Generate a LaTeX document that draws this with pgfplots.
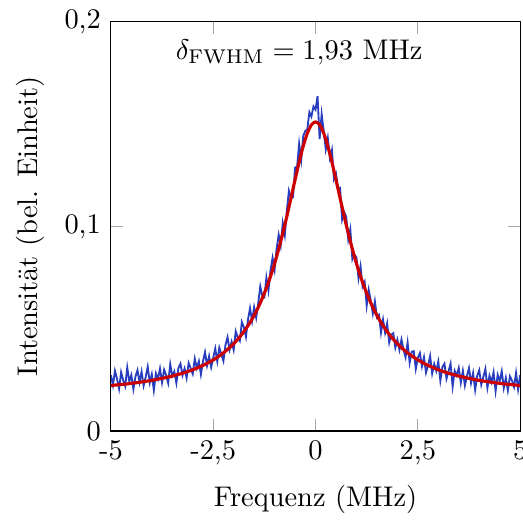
\documentclass[border=0pt]{standalone}
\usepackage{pgfplots}
\pgfplotsset{compat=1.18}
\definecolor{datablue}{RGB}{40,62,190}
\definecolor{fitred}{RGB}{205,0,0}
\begin{document}
\begin{tikzpicture}
\begin{axis}[
  scale only axis,
  width=144pt, height=144pt,
  xmin=-5, xmax=5, ymin=0, ymax=0.2,
  xtick={-5,-2.5,0,2.5,5},
  xticklabels={-5,{-2,5},0,{2,5},5},
  ytick={0,0.1,0.2},
  yticklabels={0,{0,1},{0,2}},
  tick style={gray!70, line width=0.4pt},
  xlabel={Frequenz (MHz)},
  ylabel={Intensität (bel. Einheit)},
  clip=true,
]
\addplot[datablue, line width=0.65pt] coordinates {
(-5.00,0.0272)(-4.95,0.0223)(-4.90,0.0294)(-4.85,0.0255)(-4.80,0.0206)(-4.75,0.0287)(-4.70,0.0248)(-4.65,0.0219)(-4.60,0.0310)(-4.55,0.0242)
(-4.50,0.0273)(-4.45,0.0204)(-4.40,0.0265)(-4.35,0.0297)(-4.30,0.0238)(-4.25,0.0290)(-4.20,0.0221)(-4.15,0.0263)(-4.10,0.0314)(-4.05,0.0236)
(-4.00,0.0277)(-3.95,0.0199)(-3.90,0.0281)(-3.85,0.0253)(-3.80,0.0305)(-3.75,0.0237)(-3.70,0.0299)(-3.65,0.0272)(-3.60,0.0234)(-3.55,0.0326)
(-3.50,0.0268)(-3.45,0.0291)(-3.40,0.0234)(-3.35,0.0307)(-3.30,0.0329)(-3.25,0.0272)(-3.20,0.0305)(-3.15,0.0259)(-3.10,0.0332)(-3.05,0.0306)
(-3.00,0.0279)(-2.95,0.0353)(-2.90,0.0307)(-2.85,0.0341)(-2.80,0.0276)(-2.75,0.0340)(-2.70,0.0385)(-2.65,0.0320)(-2.60,0.0366)(-2.55,0.0311)
(-2.50,0.0357)(-2.45,0.0403)(-2.40,0.0340)(-2.35,0.0407)(-2.30,0.0374)(-2.25,0.0342)(-2.20,0.0420)(-2.15,0.0458)(-2.10,0.0397)(-2.05,0.0436)
(-2.00,0.0396)(-1.95,0.0487)(-1.90,0.0458)(-1.85,0.0440)(-1.80,0.0532)(-1.75,0.0506)(-1.70,0.0460)(-1.65,0.0544)(-1.60,0.0600)(-1.55,0.0537)
(-1.50,0.0605)(-1.45,0.0554)(-1.40,0.0624)(-1.35,0.0706)(-1.30,0.0659)(-1.25,0.0653)(-1.20,0.0749)(-1.15,0.0686)(-1.10,0.0785)(-1.05,0.0846)
(-1.00,0.0788)(-0.95,0.0892)(-0.90,0.0959)(-0.85,0.0906)(-0.80,0.1016)(-0.75,0.0957)(-0.70,0.1079)(-0.65,0.1173)(-0.60,0.1138)(-0.55,0.1142)
(-0.50,0.1287)(-0.45,0.1291)(-0.40,0.1404)(-0.35,0.1325)(-0.30,0.1442)(-0.25,0.1466)(-0.20,0.1475)(-0.15,0.1558)(-0.10,0.1536)(-0.05,0.1586)
(0.00,0.1570)(0.05,0.1636)(0.10,0.1426)(0.15,0.1548)(0.20,0.1465)(0.25,0.1376)(0.30,0.1432)(0.35,0.1335)(0.40,0.1374)(0.45,0.1231)
(0.50,0.1257)(0.55,0.1182)(0.60,0.1188)(0.65,0.1033)(0.70,0.1069)(0.75,0.1047)(0.80,0.0936)(0.85,0.0986)(0.90,0.0839)(0.95,0.0862)
(1.00,0.0848)(1.05,0.0746)(1.10,0.0805)(1.15,0.0706)(1.20,0.0729)(1.25,0.0613)(1.30,0.0689)(1.35,0.0636)(1.40,0.0574)(1.45,0.0634)
(1.50,0.0555)(1.55,0.0567)(1.60,0.0480)(1.65,0.0544)(1.70,0.0480)(1.75,0.0526)(1.80,0.0432)(1.85,0.0470)(1.90,0.0478)(1.95,0.0407)
(2.00,0.0446)(2.05,0.0396)(2.10,0.0447)(2.15,0.0398)(2.20,0.0360)(2.25,0.0432)(2.30,0.0334)(2.35,0.0387)(2.40,0.0390)(2.45,0.0303)
(2.50,0.0357)(2.55,0.0381)(2.60,0.0316)(2.65,0.0360)(2.70,0.0285)(2.75,0.0320)(2.80,0.0366)(2.85,0.0281)(2.90,0.0327)(2.95,0.0293)
(3.00,0.0339)(3.05,0.0246)(3.10,0.0312)(3.15,0.0329)(3.20,0.0255)(3.25,0.0292)(3.30,0.0329)(3.35,0.0217)(3.40,0.0294)(3.45,0.0271)
(3.50,0.0308)(3.55,0.0236)(3.60,0.0294)(3.65,0.0222)(3.70,0.0269)(3.75,0.0307)(3.80,0.0235)(3.85,0.0283)(3.90,0.0201)(3.95,0.0269)
(4.00,0.0297)(4.05,0.0226)(4.10,0.0264)(4.15,0.0303)(4.20,0.0211)(4.25,0.0270)(4.30,0.0238)(4.35,0.0287)(4.40,0.0195)(4.45,0.0274)
(4.50,0.0243)(4.55,0.0292)(4.60,0.0210)(4.65,0.0259)(4.70,0.0198)(4.75,0.0267)(4.80,0.0246)(4.85,0.0215)(4.90,0.0284)(4.95,0.0203)
(5.00,0.0272)
};
\addplot[fitred, line width=1.1pt, smooth] coordinates {
(-5.0,0.0222)(-4.9,0.0224)(-4.8,0.0226)(-4.7,0.0228)(-4.6,0.0230)(-4.5,0.0233)(-4.4,0.0235)(-4.3,0.0238)(-4.2,0.0241)(-4.1,0.0244)
(-4.0,0.0247)(-3.9,0.0251)(-3.8,0.0255)(-3.7,0.0259)(-3.6,0.0264)(-3.5,0.0268)(-3.4,0.0274)(-3.3,0.0279)(-3.2,0.0285)(-3.1,0.0292)
(-3.0,0.0299)(-2.9,0.0307)(-2.8,0.0316)(-2.7,0.0325)(-2.6,0.0336)(-2.5,0.0347)(-2.4,0.0360)(-2.3,0.0374)(-2.2,0.0390)(-2.1,0.0407)
(-2.0,0.0426)(-1.9,0.0448)(-1.8,0.0472)(-1.7,0.0500)(-1.6,0.0530)(-1.5,0.0565)(-1.4,0.0604)(-1.3,0.0649)(-1.2,0.0699)(-1.1,0.0755)
(-1.0,0.0818)(-0.9,0.0889)(-0.8,0.0966)(-0.7,0.1049)(-0.6,0.1138)(-0.5,0.1227)(-0.4,0.1314)(-0.3,0.1392)(-0.2,0.1455)(-0.1,0.1496)
(0.0,0.1510)
(0.1,0.1496)(0.2,0.1455)(0.3,0.1392)(0.4,0.1314)(0.5,0.1227)(0.6,0.1138)(0.7,0.1049)(0.8,0.0966)(0.9,0.0889)(1.0,0.0818)
(1.1,0.0755)(1.2,0.0699)(1.3,0.0649)(1.4,0.0604)(1.5,0.0565)(1.6,0.0530)(1.7,0.0500)(1.8,0.0472)(1.9,0.0448)(2.0,0.0426)
(2.1,0.0407)(2.2,0.0390)(2.3,0.0374)(2.4,0.0360)(2.5,0.0347)(2.6,0.0336)(2.7,0.0325)(2.8,0.0316)(2.9,0.0307)(3.0,0.0299)
(3.1,0.0292)(3.2,0.0285)(3.3,0.0279)(3.4,0.0274)(3.5,0.0268)(3.6,0.0264)(3.7,0.0259)(3.8,0.0255)(3.9,0.0251)(4.0,0.0247)
(4.1,0.0244)(4.2,0.0241)(4.3,0.0238)(4.4,0.0235)(4.5,0.0233)(4.6,0.0230)(4.7,0.0228)(4.8,0.0226)(4.9,0.0224)(5.0,0.0222)
};
\node[anchor=center] at (rel axis cs:0.46,0.925) {$\delta_{\mathrm{FWHM}} = 1{,}93~\mathrm{MHz}$};
\end{axis}
\coordinate (bbsw) at ([xshift=-2.5pt]current bounding box.south west);
\coordinate (bbn) at (current bounding box.north);
\coordinate (axe) at ([xshift=1pt]current axis.east);
\pgfresetboundingbox
\path (bbsw) rectangle (axe |- bbn);
\end{tikzpicture}
\end{document}
